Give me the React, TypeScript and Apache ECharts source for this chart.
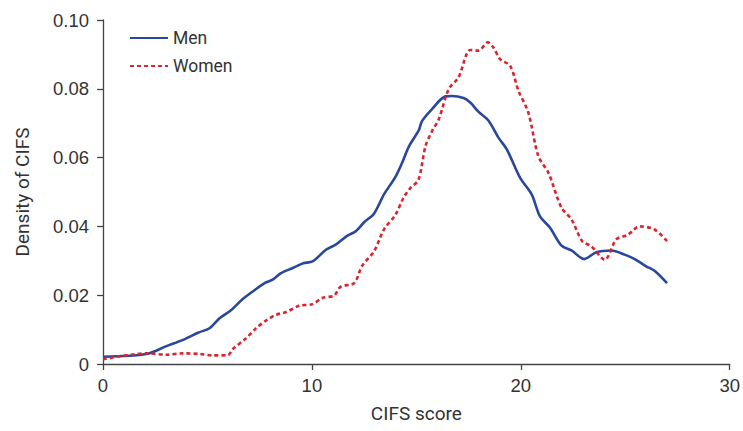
import React, { useEffect, useRef } from "react";
import * as echarts from "echarts";

const menX = [0, 2.08, 3.04, 3.83, 4.55, 5.1, 5.58, 6.14, 6.69, 7.33, 7.8, 8.12, 8.52, 9.08, 9.59, 10.03, 10.67, 11.14, 11.7, 12.1, 12.5, 12.97, 13.45, 14.0, 14.32, 14.64, 15.12, 15.27, 15.75, 16.39, 16.7, 17.26, 17.58, 17.98, 18.45, 18.93, 19.33, 19.97, 20.52, 20.92, 21.4, 21.95, 22.43, 23.03, 23.62, 24.33, 24.97, 25.45, 26.0, 26.4, 27.0];
const menY = [0.0021, 0.0029, 0.0052, 0.007, 0.0091, 0.0104, 0.0133, 0.0157, 0.0189, 0.0218, 0.0237, 0.0245, 0.0264, 0.0279, 0.0293, 0.0298, 0.0332, 0.0347, 0.0373, 0.0386, 0.0412, 0.0437, 0.0493, 0.0544, 0.0585, 0.0632, 0.068, 0.0706, 0.0741, 0.0778, 0.0779, 0.0773, 0.076, 0.0733, 0.0708, 0.0658, 0.0624, 0.0541, 0.0493, 0.0429, 0.0396, 0.0344, 0.033, 0.0305, 0.0325, 0.033, 0.0318, 0.0305, 0.0284, 0.0271, 0.0235];

const womenX = [0, 2.08, 3.04, 3.83, 4.63, 5.26, 5.98, 6.21, 6.85, 7.33, 7.8, 8.28, 8.76, 9.39, 10.03, 10.5, 11.06, 11.38, 12.02, 12.41, 12.97, 13.45, 14.0, 14.4, 14.72, 15.1, 15.44, 15.75, 16.07, 16.55, 17.02, 17.58, 17.98, 18.42, 18.69, 19.01, 19.49, 19.89, 20.36, 20.84, 21.32, 21.95, 22.43, 22.94, 23.38, 24.02, 24.57, 25.13, 25.69, 26.4, 27.0];
const womenY = [0.0014, 0.0031, 0.0027, 0.0031, 0.0029, 0.0025, 0.0026, 0.0043, 0.0075, 0.0104, 0.0126, 0.0143, 0.0151, 0.0169, 0.0174, 0.0192, 0.0199, 0.0225, 0.0235, 0.0286, 0.0327, 0.0391, 0.0434, 0.0485, 0.0512, 0.0535, 0.0634, 0.0677, 0.0711, 0.0799, 0.0833, 0.0913, 0.0911, 0.0935, 0.092, 0.0886, 0.0867, 0.0794, 0.0731, 0.0604, 0.0556, 0.0454, 0.042, 0.0357, 0.0342, 0.0303, 0.0362, 0.0376, 0.04, 0.0391, 0.0357];

const xTicks = [0, 10, 20, 30];
const yTicks = [0, 0.02, 0.04, 0.06, 0.08, 0.1];

const tickFont = "'Liberation Sans', Arial, sans-serif";
const nameFont = "Roboto, 'Noto Sans', sans-serif";

export default function App() {
  const ref = useRef<HTMLDivElement>(null);
  useEffect(() => {
    if (!ref.current) return;
    const chart = echarts.init(ref.current, null, { renderer: "svg" });
    chart.setOption({
      animation: false,
      backgroundColor: "#ffffff",
      grid: { left: 103, right: 10, top: 20, bottom: 67 },
      legend: {
        orient: "vertical",
        left: 124,
        top: 24,
        itemWidth: 38,
        itemHeight: 14,
        itemGap: 10,
        itemStyle: { opacity: 0 },
        textStyle: { fontSize: 17.5, color: "#333", fontFamily: nameFont },
        data: ["Men", "Women"],
      },
      xAxis: {
        type: "value",
        min: xTicks[0],
        max: xTicks[xTicks.length - 1],
        interval: 10,
        name: "CIFS score",
        nameLocation: "middle",
        nameGap: 40,
        nameTextStyle: { fontSize: 19, color: "#333", fontFamily: nameFont },
        axisLine: { show: true, lineStyle: { color: "#444", width: 1.3 } },
        axisTick: { show: true, length: 6, lineStyle: { color: "#444", width: 1.3 } },
        axisLabel: { fontSize: 18.5, color: "#333", margin: 12, fontFamily: tickFont },
        splitLine: { show: false },
      },
      yAxis: {
        type: "value",
        min: yTicks[0],
        max: yTicks[yTicks.length - 1],
        interval: 0.02,
        name: "Density of CIFS",
        nameLocation: "middle",
        nameGap: 71,
        nameTextStyle: { fontSize: 19, color: "#333", fontFamily: nameFont },
        axisLine: { show: true, lineStyle: { color: "#444", width: 1.3 } },
        axisTick: { show: true, length: 6, lineStyle: { color: "#444", width: 1.3 } },
        axisLabel: {
          fontSize: 18.5,
          color: "#333",
          margin: 14,
          fontFamily: tickFont,
          formatter: (v: number) => (v === 0 ? "0" : v.toFixed(2)),
        },
        splitLine: { show: false },
      },
      series: [
        {
          name: "Men",
          type: "line",
          symbol: "none",
          smooth: 0.3,
          data: menX.map((x, i) => [x, menY[i]]),
          lineStyle: { color: "#2a479e", width: 2.6 },
          itemStyle: { color: "#2a479e" },
        },
        {
          name: "Women",
          type: "line",
          symbol: "none",
          smooth: 0.3,
          data: womenX.map((x, i) => [x, womenY[i]]),
          lineStyle: { color: "#d9252f", width: 2.6, type: [4, 3] },
          itemStyle: { color: "#d9252f" },
        },
      ],
    });
    return () => chart.dispose();
  }, []);
  return <div ref={ref} style={{ width: 743, height: 431, position: "absolute", left: 0, top: 0 }} />;
}
